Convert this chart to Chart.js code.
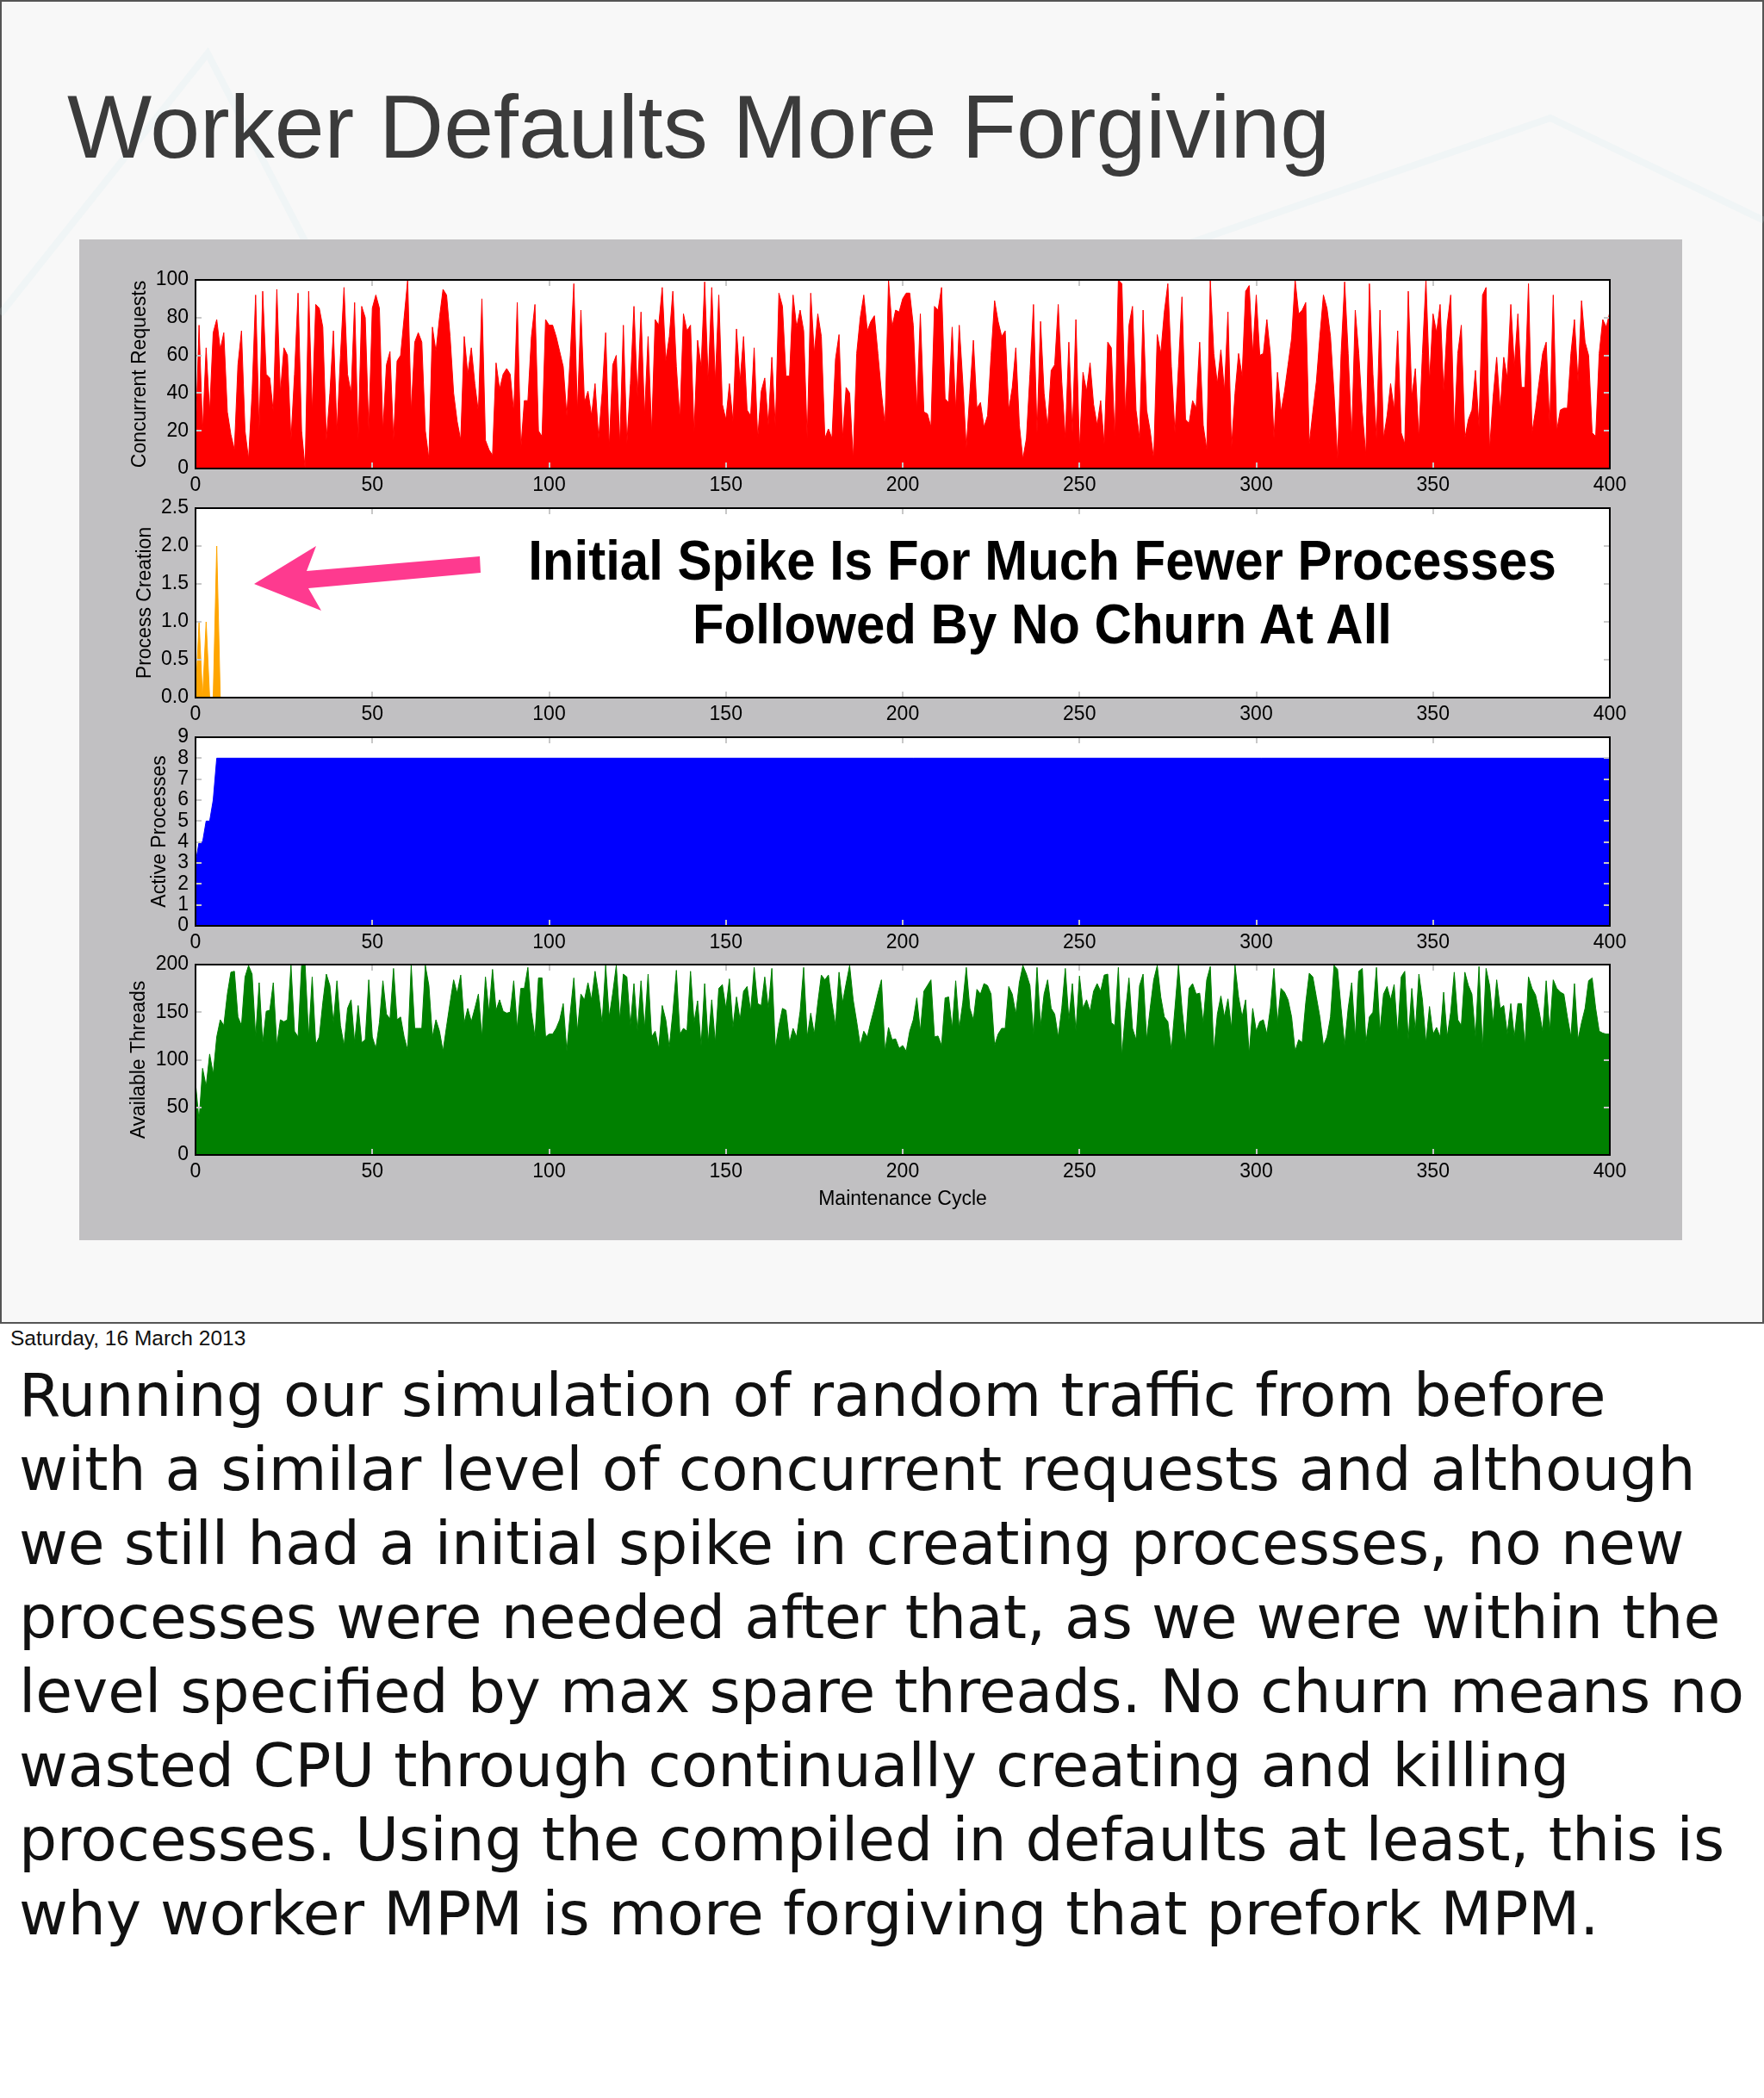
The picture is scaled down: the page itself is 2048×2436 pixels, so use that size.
<!DOCTYPE html>
<html>
<head>
<meta charset="utf-8">
<script src="https://cdn.jsdelivr.net/npm/chart.js@4.4.1/dist/chart.umd.min.js"></script>
<style>
html, body { margin: 0; padding: 0; background: #fff; }
body { width: 2048px; height: 2436px; position: relative; overflow: hidden; font-family: "Liberation Sans", Arial, sans-serif; }
#slide { position: absolute; left: 0; top: 0; width: 2044px; height: 1533px; border: 2px solid #555; background: #f8f8f8; }
#deco { position: absolute; left: 0; top: 0; }
#title { position: absolute; left: 78px; top: 95px; font-size: 104px; line-height: 104px; color: #3b3b3b; white-space: nowrap; }
#panel { position: absolute; left: 92px; top: 278px; width: 1861px; height: 1162px; background: #c1c0c2; }
canvas { position: absolute; left: 92px; }
.note { position: absolute; left: 0; width: 2420px; text-align: center; font-weight: bold; font-size: 65px; line-height: 65px; color: #000; white-space: nowrap; transform: scaleX(0.923); transform-origin: 1210px 0; }
#arrow { position: absolute; left: 0; top: 0; }
#date { position: absolute; left: 12px; top: 1542px; font-size: 24.5px; line-height: 24px; color: #111; white-space: nowrap; }
#notes { position: absolute; left: 22px; top: 1577px; font-family: "DejaVu Sans", sans-serif; font-size: 69.5px; line-height: 86px; color: #111; white-space: nowrap; }
</style>
</head>
<body>
<div id="slide"></div>
<svg id="deco" width="2048" height="1537">
  <polyline points="0,365 241,62 443,451" fill="none" stroke="rgba(200,232,236,0.16)" stroke-width="8"/>
  <polyline points="870,290 1330,300 1800,137 2048,256" fill="none" stroke="rgba(200,232,236,0.16)" stroke-width="8"/>
</svg>
<div id="title">Worker Defaults More Forgiving</div>
<div id="panel"></div>
<canvas id="c1" width="1861" height="285" style="top:301px"></canvas>
<canvas id="c2" width="1861" height="286" style="top:566px"></canvas>
<canvas id="c3" width="1861" height="285" style="top:832px"></canvas>
<canvas id="c4" width="1861" height="314" style="top:1096px"></canvas>
<div class="note" style="top:618px">Initial Spike Is For Much Fewer Processes</div>
<div class="note" style="top:692px">Followed By No Churn At All</div>
<svg id="arrow" width="2048" height="1537">
  <polygon points="295,678 367,634 356,663 557,646 558,665 358,683 373,709" fill="#fe3a8f"/>
</svg>
<div id="date">Saturday, 16 March 2013</div>
<div id="notes">Running our simulation of random traffic from before<br>with a similar level of concurrent requests and although<br>we still had a initial spike in creating processes, no new<br>processes were needed after that, as we were within the<br>level specified by max spare threads. No churn means no<br>wasted CPU through continually creating and killing<br>processes. Using the compiled in defaults at least, this is<br>why worker MPM is more forgiving that prefork MPM.</div>

<script>
// values, one per maintenance cycle (0..400)
const concurrentRequests = [
  15, 76, 20, 64, 30, 72, 79, 63, 72, 30, 18, 10, 55, 73, 20, 5, 40, 92, 20, 94,
  50, 48, 30, 95, 40, 64, 60, 15, 50, 93, 20, 0, 94, 30, 87, 85, 75, 15, 40, 73,
  20, 60, 96, 50, 40, 88, 15, 86, 80, 20, 85, 92, 85, 20, 55, 62, 15, 57, 60, 80,
  100, 30, 67, 72, 67, 20, 5, 75, 62, 80, 95, 92, 70, 40, 25, 15, 70, 50, 64, 45,
  30, 90, 15, 10, 7, 56, 42, 50, 53, 50, 30, 88, 10, 36, 36, 70, 87, 20, 17, 79,
  76, 76, 70, 62, 54, 28, 60, 98, 30, 84, 35, 41, 28, 45, 16, 40, 72, 11, 55, 60,
  13, 76, 13, 45, 86, 38, 83, 28, 70, 19, 79, 76, 96, 57, 70, 94, 54, 26, 82, 73,
  76, 19, 68, 54, 99, 46, 96, 46, 92, 34, 26, 45, 25, 74, 46, 70, 31, 28, 64, 16,
  41, 48, 23, 59, 22, 93, 86, 49, 49, 92, 75, 84, 73, 16, 93, 61, 82, 70, 16, 21,
  16, 58, 71, 16, 43, 40, 5, 61, 80, 92, 73, 78, 81, 61, 40, 23, 100, 75, 84, 83,
  90, 93, 93, 76, 31, 82, 30, 29, 22, 86, 84, 96, 37, 35, 75, 31, 76, 46, 11, 40,
  68, 32, 35, 22, 28, 60, 89, 78, 70, 73, 31, 43, 64, 23, 5, 16, 50, 87, 19, 78,
  40, 22, 52, 55, 87, 46, 16, 67, 19, 79, 10, 51, 41, 56, 34, 23, 36, 13, 67, 64,
  16, 100, 98, 28, 76, 86, 31, 16, 84, 31, 20, 5, 71, 61, 83, 98, 54, 19, 54, 91,
  26, 24, 36, 32, 67, 23, 10, 100, 61, 45, 63, 41, 83, 11, 40, 61, 49, 94, 97, 61,
  92, 60, 61, 79, 61, 16, 51, 30, 41, 55, 69, 100, 82, 84, 88, 13, 30, 46, 70, 92,
  85, 70, 40, 5, 61, 99, 61, 16, 84, 61, 30, 7, 98, 50, 16, 84, 16, 28, 45, 31,
  73, 19, 13, 94, 38, 53, 16, 61, 100, 46, 82, 72, 87, 41, 76, 92, 19, 61, 76, 16,
  26, 31, 52, 22, 92, 96, 10, 38, 59, 31, 59, 48, 87, 54, 82, 43, 43, 98, 19, 31,
  46, 61, 67, 23, 92, 20, 31, 32, 32, 61, 79, 46, 89, 67, 60, 19, 17, 61, 79, 75, 83
];

const availableThreads = [
  76, 36, 91, 72, 106, 85, 124, 142, 136, 169, 192, 193, 145, 136, 187, 199, 190, 124, 181, 118,
  151, 152, 181, 115, 142, 140, 142, 199, 130, 124, 199, 199, 124, 187, 116, 124, 160, 190, 178, 139,
  183, 136, 115, 154, 163, 118, 157, 118, 121, 184, 124, 112, 139, 183, 148, 143, 196, 142, 145, 124,
  110, 199, 133, 133, 133, 199, 178, 124, 142, 130, 109, 135, 160, 184, 170, 189, 139, 154, 140, 154,
  169, 124, 187, 150, 195, 152, 163, 151, 149, 150, 183, 133, 175, 175, 197, 150, 124, 186, 186, 124,
  127, 127, 133, 142, 159, 109, 150, 186, 130, 169, 163, 181, 163, 193, 169, 139, 199, 145, 170, 199,
  142, 190, 187, 136, 180, 130, 183, 133, 190, 124, 130, 112, 157, 142, 113, 150, 194, 127, 133, 130,
  193, 139, 162, 115, 180, 118, 163, 118, 175, 179, 154, 185, 134, 166, 142, 172, 177, 151, 197, 159,
  157, 187, 154, 196, 112, 136, 154, 152, 118, 133, 124, 151, 197, 124, 149, 127, 160, 189, 184, 189,
  160, 136, 192, 160, 180, 199, 163, 140, 115, 130, 124, 140, 154, 170, 184, 109, 134, 121, 122, 112,
  115, 109, 130, 142, 165, 130, 172, 178, 184, 124, 125, 115, 165, 166, 133, 183, 133, 160, 197, 154,
  142, 174, 169, 180, 178, 169, 115, 127, 133, 133, 177, 169, 148, 181, 199, 190, 178, 127, 197, 136,
  169, 184, 154, 148, 124, 154, 196, 142, 180, 130, 188, 154, 163, 151, 172, 180, 172, 189, 190, 139,
  136, 197, 104, 150, 186, 133, 121, 178, 190, 121, 154, 184, 199, 166, 145, 140, 110, 154, 199, 154,
  118, 175, 180, 169, 170, 139, 184, 198, 109, 148, 167, 145, 164, 133, 199, 166, 145, 163, 106, 154,
  130, 140, 142, 127, 154, 196, 139, 175, 171, 163, 145, 109, 121, 118, 160, 191, 187, 166, 145, 115,
  124, 145, 199, 195, 154, 115, 154, 181, 124, 193, 196, 118, 145, 150, 197, 130, 169, 177, 163, 179,
  127, 187, 193, 121, 175, 130, 190, 163, 118, 156, 127, 134, 124, 171, 124, 150, 192, 142, 136, 192,
  178, 169, 124, 198, 112, 196, 178, 139, 184, 154, 157, 127, 159, 124, 159, 159, 115, 187, 175, 168,
  151, 130, 183, 130, 184, 175, 171, 169, 145, 124, 180, 121, 139, 154, 183, 186, 154, 130, 128, 127, 127
];

// sparse series: only the early cycles change, the rest stays flat
const creationCycles = [0, 1, 2, 3, 4, 5, 6, 7, 400];
const processCreation = [0, 1, 0, 1, 0, 0, 2, 0, 0];
const activeCycles = [0, 1, 2, 3, 4, 5, 6, 400];
const activeProcesses = [3, 4, 4, 5, 5, 6, 8, 8];

const xTicks = [0, 50, 100, 150, 200, 250, 300, 350, 400];

const tickFont = { family: 'Liberation Sans', size: 23 };
const titleFont = { family: 'Liberation Sans', size: 23, lineHeight: 1.2 };

// white plot face, black box round the plot and the small grey inward ticks
const framePlugin = {
  id: 'frame',
  beforeDatasetsDraw(chart) {
    const { ctx, chartArea: a } = chart;
    ctx.save();
    ctx.fillStyle = '#fff';
    ctx.fillRect(a.left, a.top, a.right - a.left, a.bottom - a.top);
    ctx.restore();
  },
  afterDatasetsDraw(chart) {
    const { ctx, chartArea: a, scales } = chart;
    ctx.save();
    ctx.strokeStyle = '#c8c8c8';
    ctx.lineWidth = 2;
    ctx.beginPath();
    scales.x.ticks.forEach(t => {
      const px = Math.round(scales.x.getPixelForValue(t.value));
      ctx.moveTo(px, a.top); ctx.lineTo(px, a.top + 7);
      ctx.moveTo(px, a.bottom); ctx.lineTo(px, a.bottom - 7);
    });
    scales.y.ticks.forEach(t => {
      const py = Math.round(scales.y.getPixelForValue(t.value));
      ctx.moveTo(a.left, py); ctx.lineTo(a.left + 7, py);
      ctx.moveTo(a.right, py); ctx.lineTo(a.right - 7, py);
    });
    ctx.stroke();
    ctx.strokeStyle = '#000';
    ctx.lineWidth = 2;
    ctx.strokeRect(a.left, a.top, a.right - a.left, a.bottom - a.top);
    ctx.restore();
  }
};

function makeChart(id, xs, ys, color, y, xTitle, xAxisH) {
  const points = ys.map((v, i) => ({ x: xs[i], y: v }));
  new Chart(document.getElementById(id), {
    type: 'line',
    data: {
      datasets: [{
        data: points,
        borderColor: color,
        backgroundColor: color,
        borderWidth: 1,
        fill: 'origin',
        pointRadius: 0,
        tension: 0
      }]
    },
    options: {
      responsive: false,
      animation: false,
      devicePixelRatio: 1,
      layout: { padding: { left: y.padLeft, top: 24, right: 84, bottom: 0 } },
      plugins: { legend: { display: false }, tooltip: { enabled: false } },
      scales: {
        x: {
          type: 'linear',
          min: 0,
          max: 400,
          afterBuildTicks: s => { s.ticks = xTicks.map(v => ({ value: v })); },
          afterFit: s => { s.height = xAxisH; },
          grid: { display: false, drawTicks: false },
          border: { display: false },
          ticks: { font: tickFont, color: '#000', padding: 6, maxRotation: 0, autoSkip: false },
          title: { display: !!xTitle, text: xTitle, font: titleFont, color: '#000', padding: { top: 4, bottom: 4 } }
        },
        y: {
          min: y.min,
          max: y.max,
          afterBuildTicks: s => { s.ticks = y.ticks.map(v => ({ value: v })); },
          afterFit: s => { s.width = 135 - y.padLeft; },
          grid: { display: false, drawTicks: false },
          border: { display: false },
          ticks: { font: tickFont, color: '#000', padding: 8, autoSkip: false, callback: y.fmt },
          title: { display: true, text: y.title, font: titleFont, color: '#000', padding: { top: 4, bottom: 4 } }
        }
      }
    },
    plugins: [framePlugin]
  });
}

const cycles = concurrentRequests.map((_, i) => i);
const plain = v => String(v);

makeChart('c1', cycles, concurrentRequests, '#ff0000',
  { min: 0, max: 100, ticks: [0, 20, 40, 60, 80, 100], title: 'Concurrent Requests', padLeft: 53, fmt: plain }, '', 42);
makeChart('c2', creationCycles, processCreation, '#ffa500',
  { min: 0, max: 2.5, ticks: [0, 0.5, 1, 1.5, 2, 2.5], title: 'Process Creation', padLeft: 59, fmt: v => v.toFixed(1) }, '', 42);
makeChart('c3', activeCycles, activeProcesses, '#0000ff',
  { min: 0, max: 9, ticks: [0, 1, 2, 3, 4, 5, 6, 7, 8, 9], title: 'Active Processes', padLeft: 76, fmt: plain }, '', 42);
makeChart('c4', cycles, availableThreads, '#008000',
  { min: 0, max: 200, ticks: [0, 50, 100, 150, 200], title: 'Available Threads', padLeft: 52, fmt: plain }, 'Maintenance Cycle', 69);
</script>
</body>
</html>
